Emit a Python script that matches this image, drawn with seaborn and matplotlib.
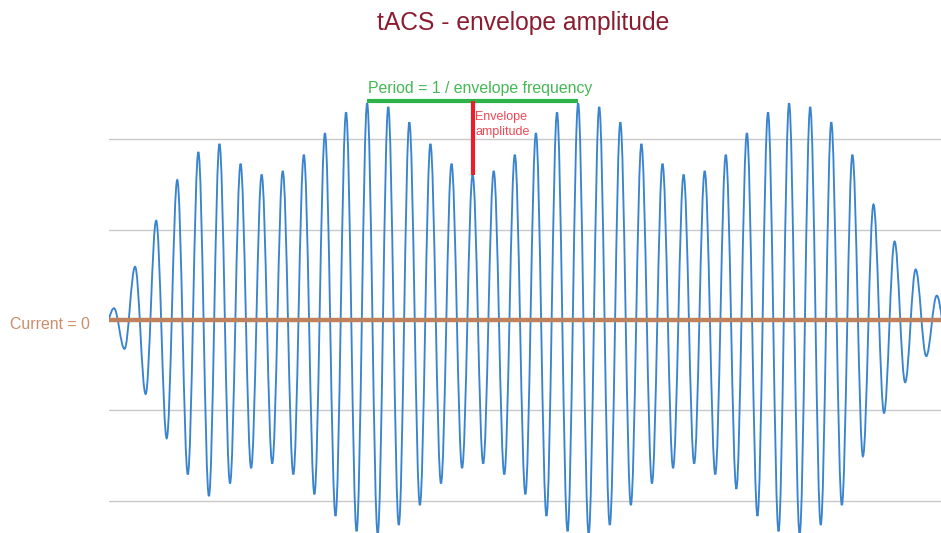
import numpy as np
import pandas as pd
import matplotlib
matplotlib.use('Agg')
import matplotlib.pyplot as plt
from matplotlib import font_manager
from matplotlib.path import Path
from matplotlib.patches import PathPatch
import seaborn as sns

# current at the start, at every peak / trough, and at the end
signal_values = [
    0.00,
    0.13, -0.32, 0.59, -0.82, 1.10, -1.31, 1.55, -1.71, 1.86, -1.95,
    1.95, -1.81, 1.73, -1.64, 1.61, -1.59, 1.65, -1.71, 1.83, -1.93,
    2.07, -2.17, 2.30, -2.34, 2.40, -2.37, 2.36, -2.27, 2.19, -2.05,
    1.95, -1.81, 1.73, -1.64, 1.61, -1.59, 1.65, -1.71, 1.83, -1.93,
    2.07, -2.17, 2.30, -2.34, 2.40, -2.37, 2.36, -2.27, 2.19, -2.05,
    1.95, -1.81, 1.73, -1.64, 1.61, -1.59, 1.65, -1.71, 1.83, -1.87,
    2.07, -2.17, 2.30, -2.34, 2.40, -2.37, 2.36, -2.27, 2.19, -2.05,
    1.83, -1.51, 1.28, -1.03, 0.87, -0.69, 0.56, -0.40, 0.27,
    0.00,
]
# time (ms): start, one extremum every half carrier period (5 ms), end
extrema_times = list(np.arange(2.5, 395, 5.0))
signal_times = [0.0] + extrema_times + [395.0]

grid_levels = [-2, -1, 0, 1, 2]
period_start_ms, period_end_ms = 122.5, 222.5
envelope_probe_ms = 172.5

title = 'tACS - envelope amplitude'
period_label = 'Period = 1 / envelope frequency'
envelope_label = 'Envelope\namplitude'
zero_label = 'Current = 0'

df = pd.DataFrame({'time_ms': signal_times, 'current': signal_values})

sns.set_style('white')
names = {f.name for f in font_manager.fontManager.ttflist}
if 'Liberation Sans Narrow' in names:
    font, k = 'Liberation Sans Narrow', 1.0
else:
    font, k = 'Liberation Sans', 0.82
plt.rcParams['font.family'] = [font, 'DejaVu Sans']

W, H = 941, 533
fig = plt.figure(figsize=(W / 100, H / 100), dpi=100)
left = 108.7 / W
ax = fig.add_axes([left, 0, 1 - left, 1])

# seaborn places the series on the axes (kept invisible), the smoothed
# line through the same points is drawn on top, like a spreadsheet "smooth line"
sns.lineplot(data=df, x='time_ms', y='current', ax=ax, color='#3a84cf',
             linewidth=0, zorder=3)


def smooth_path(ts, vs):
    verts = [(ts[0], vs[0])]
    codes = [Path.MOVETO]
    n = len(ts)
    for i in range(n - 1):
        t0, v0, t1, v1 = ts[i], vs[i], ts[i + 1], vs[i + 1]
        dt, dv = t1 - t0, v1 - v0
        if i == 0:            # zero crossing -> first extremum
            c1 = (t0 + 0.326 * dt, v0 + 0.512 * dv)
            c2 = (t0 + 0.638 * dt, v1)
        elif i == n - 2:      # last extremum -> zero crossing
            c1 = (t0 + 0.362 * dt, v0)
            c2 = (t0 + 0.674 * dt, v1 - 0.512 * dv)
        else:                 # extremum -> extremum
            c1 = (t0 + 0.3634 * dt, v0)
            c2 = (t1 - 0.3634 * dt, v1)
        verts += [c1, c2, (t1, v1)]
        codes += [Path.CURVE4] * 3
    return Path(verts, codes)


ax.add_patch(PathPatch(smooth_path(df['time_ms'].tolist(), df['current'].tolist()),
                       facecolor='none', edgecolor='#3a84cf', linewidth=1.35,
                       zorder=3))
ax.axhline(0, color='#c0825c', linewidth=3.2, zorder=4)

ax.set_xlim(0, 394.5)
ax.set_ylim(-2.359, 3.544)
ax.set_yticks(grid_levels)
ax.set_xticks([])
ax.grid(axis='y', color='#c9c9c9', linewidth=1.0)
ax.tick_params(left=False, labelleft=False, bottom=False, labelbottom=False)
ax.set_xlabel('')
ax.set_ylabel('')
for s in ax.spines.values():
    s.set_visible(False)

# period bar and envelope amplitude marker
bar_level = max(signal_values) + 0.03
probe_value = signal_values[signal_times.index(envelope_probe_ms)]
ax.hlines(bar_level, period_start_ms, period_end_ms, color='#2db34a',
          linewidth=3.0, zorder=5)
ax.vlines(envelope_probe_ms, probe_value, bar_level, color='#ea1d2a',
          linewidth=3.0, zorder=5)


def fx(px):
    return px / W


def fy(py):
    return 1 - py / H


fig.text(fx(523), fy(30), title, ha='center', va='baseline',
         color='#8b1c30', fontsize=21.6 * k)
fig.text(fx(368), fy(93), period_label, ha='left', va='baseline',
         color='#45b854', fontsize=13.9 * k)
fig.text(fx(475), fy(135), envelope_label, ha='left', va='baseline',
         color='#ef4855', fontsize=11 * k, linespacing=1.3)
fig.text(fx(10), fy(329), zero_label, ha='left', va='baseline',
         color='#cc8d6c', fontsize=14 * k)

fig.savefig('out.png', dpi=100)
